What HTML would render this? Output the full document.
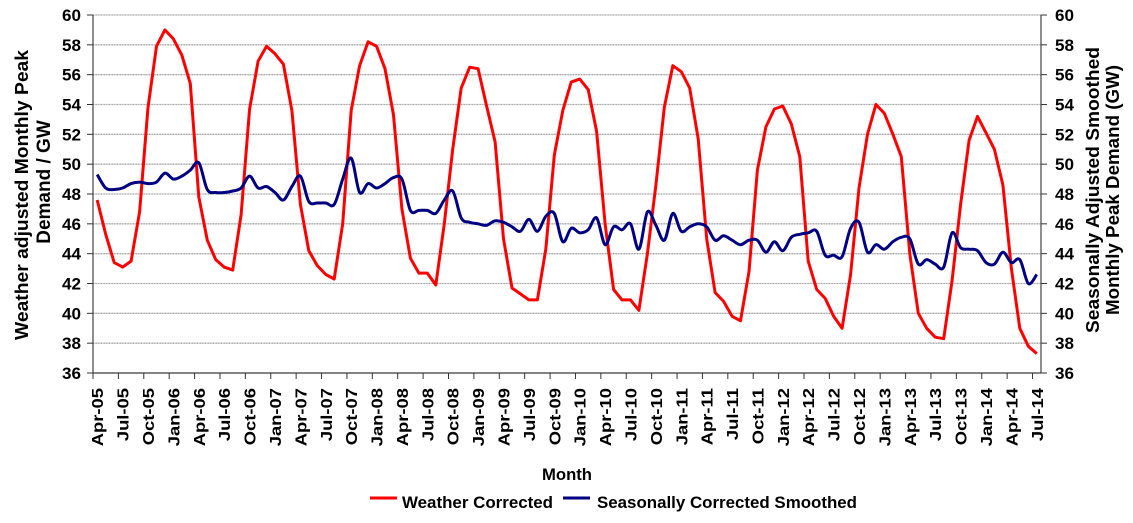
<!DOCTYPE html>
<html><head><meta charset="utf-8"><style>
html,body{margin:0;padding:0;background:#fff;}
svg text{font-family:"Liberation Sans",Arial,sans-serif;font-weight:bold;fill:#000;}
</style></head><body>
<svg id="chart" width="1133" height="518" viewBox="0 0 1133 518" xmlns="http://www.w3.org/2000/svg">
<g id="grid"></g>
<g id="axes"></g>
<g id="series"></g>
<text transform="translate(28,195) rotate(-90)" text-anchor="middle" font-size="18" textLength="290" lengthAdjust="spacingAndGlyphs">Weather adjusted Monthly Peak</text>
<text transform="translate(50,182) rotate(-90)" text-anchor="middle" style="font-size:19px">Demand / GW</text>
<text transform="translate(1099,190) rotate(-90)" text-anchor="middle" font-size="18" textLength="286" lengthAdjust="spacingAndGlyphs">Seasonally Adjusted Smoothed</text>
<text transform="translate(1119,190) rotate(-90)" text-anchor="middle" font-size="18" textLength="250" lengthAdjust="spacingAndGlyphs">Monthly Peak Demand (GW)</text>
<text x="567" y="480" text-anchor="middle" font-size="17" textLength="50" lengthAdjust="spacingAndGlyphs">Month</text>
<g>
<line x1="370" y1="498" x2="397" y2="498" stroke="#ff0000" stroke-width="3"/>
<text x="402" y="508" font-size="17" textLength="151" lengthAdjust="spacingAndGlyphs">Weather Corrected</text>
<line x1="563" y1="498" x2="590" y2="498" stroke="#000080" stroke-width="3"/>
<text x="597" y="508" font-size="17" textLength="260" lengthAdjust="spacingAndGlyphs">Seasonally Corrected Smoothed</text>
</g>
</svg>
<script>
const weatherCorrected = [47.6,45.3,43.4,43.1,43.5,46.8,53.8,57.9,59.0,58.4,57.3,55.4,
47.8,44.9,43.6,43.1,42.9,46.6,53.7,56.9,57.9,57.4,56.7,53.6,
47.3,44.2,43.2,42.6,42.3,46.0,53.6,56.6,58.2,57.9,56.4,53.3,
47.0,43.7,42.7,42.7,41.9,46.0,51.0,55.1,56.5,56.4,53.9,51.5,
45.0,41.7,41.3,40.9,40.9,44.3,50.6,53.6,55.5,55.7,55.0,52.2,
46.0,41.6,40.9,40.9,40.2,44.0,48.6,53.8,56.6,56.2,55.1,51.7,
45.0,41.4,40.8,39.8,39.5,42.8,49.6,52.5,53.7,53.9,52.7,50.5,
43.5,41.6,41.0,39.8,39.0,42.6,48.4,52.0,54.0,53.4,52.0,50.5,
44.0,40.0,39.0,38.4,38.3,42.2,47.3,51.6,53.2,52.1,51.0,48.6,
43.0,39.0,37.8,37.3];
const seasonallySmoothed = [49.3,48.4,48.3,48.4,48.7,48.8,48.7,48.8,49.4,49.0,49.2,49.6,
50.1,48.3,48.1,48.1,48.2,48.4,49.2,48.4,48.5,48.1,47.6,48.5,
49.2,47.5,47.4,47.4,47.3,49.0,50.4,48.1,48.7,48.4,48.7,49.1,
49.0,46.9,46.9,46.9,46.7,47.6,48.2,46.4,46.1,46.0,45.9,46.2,
46.1,45.8,45.5,46.3,45.5,46.5,46.7,44.8,45.7,45.4,45.6,46.4,
44.6,45.8,45.6,46.0,44.3,46.8,45.9,44.9,46.7,45.5,45.8,46.0,
45.8,44.9,45.2,44.9,44.6,44.9,44.9,44.1,44.8,44.2,45.1,45.3,
45.4,45.5,43.9,43.9,43.8,45.7,46.1,44.1,44.6,44.3,44.8,45.1,
45.0,43.3,43.6,43.3,43.1,45.4,44.4,44.3,44.2,43.4,43.3,44.1,
43.4,43.6,42.0,42.6];
const yTicks = [36,38,40,42,44,46,48,50,52,54,56,58,60];
const monthNames = ["Jan","Feb","Mar","Apr","May","Jun","Jul","Aug","Sep","Oct","Nov","Dec"];

const NS = "http://www.w3.org/2000/svg";
const L = 93, R = 1041, T = 15, B = 373, yMin = 36, yMax = 60;
const n = weatherCorrected.length;
const step = (R - L) / n;
function xPos(i){ return L + (i + 0.5) * step; }
function yPos(v){ return B - (v - yMin) / (yMax - yMin) * (B - T); }
function mk(tag, attrs, parent){ const e = document.createElementNS(NS, tag); for (const k in attrs) e.setAttribute(k, attrs[k]); parent.appendChild(e); return e; }
const grid = document.getElementById('grid'), axes = document.getElementById('axes'), series = document.getElementById('series');

yTicks.forEach(v => {
  const y = yPos(v);
  const g = mk('line', {x1:L, x2:R, y1:y, y2:y, stroke:'#9a9a9a', 'stroke-width':1.3, 'stroke-dasharray':'1 0.6'}, grid);
  
  
  const tl = mk('line', {x1:L-6, x2:L, y1:y, y2:y, stroke:'#333', 'stroke-width':1}, axes);
  
  
  const tr = mk('line', {x1:R, x2:R+6, y1:y, y2:y, stroke:'#333', 'stroke-width':1}, axes);
  
  
  const a = mk('text', {x:L-12, y:y+6, 'text-anchor':'end', 'font-size':17, textLength:19, lengthAdjust:'spacingAndGlyphs'}, axes);
  a.textContent = v;
  
  
  const b = mk('text', {x:R+14, y:y+6, 'text-anchor':'start', 'font-size':17, textLength:19, lengthAdjust:'spacingAndGlyphs'}, axes);
  b.textContent = v;
  
  
});
const la = mk('line', {x1:L, x2:L, y1:T, y2:B, stroke:'#444', 'stroke-width':1.2}, axes);


const ra = mk('line', {x1:R, x2:R, y1:T, y2:B, stroke:'#444', 'stroke-width':1.2}, axes);


const xa = mk('line', {x1:L, x2:R, y1:B, y2:B, stroke:'#444', 'stroke-width':1.2}, axes);



for (let i = 0; i < n; i += 3) {
  const tk = mk('line', {x1:L+i*step, x2:L+i*step, y1:B, y2:B+6, stroke:'#333', 'stroke-width':1}, axes);
  
  
  const m = (3 + i) % 12, yr = 5 + Math.floor((3 + i) / 12);
  const x = xPos(i) + 6;
  const t = mk('text', {transform:`translate(${x},${B+15}) rotate(-90) scale(1.15,1)`, 'text-anchor':'end', 'font-size':16}, axes);
  t.textContent = monthNames[m] + '-' + String(yr).padStart(2, '0');
  
  
}

let d = '';
weatherCorrected.forEach((v, i) => { d += (i ? 'L' : 'M') + xPos(i).toFixed(1) + ',' + yPos(v).toFixed(1); });
const red = mk('path', {d:d, fill:'none', stroke:'#ff0000', 'stroke-width':3, 'stroke-linejoin':'round'}, series);



const pts = seasonallySmoothed.map((v, i) => [xPos(i), yPos(v)]);
let s = 'M' + pts[0][0].toFixed(1) + ',' + pts[0][1].toFixed(1);
for (let i = 0; i < pts.length - 1; i++) {
  const p0 = pts[Math.max(0, i-1)], p1 = pts[i], p2 = pts[i+1], p3 = pts[Math.min(pts.length-1, i+2)];
  const c1 = [p1[0] + (p2[0]-p0[0])/6, p1[1] + (p2[1]-p0[1])/6];
  const c2 = [p2[0] - (p3[0]-p1[0])/6, p2[1] - (p3[1]-p1[1])/6];
  s += 'C' + c1[0].toFixed(1) + ',' + c1[1].toFixed(1) + ' ' + c2[0].toFixed(1) + ',' + c2[1].toFixed(1) + ' ' + p2[0].toFixed(1) + ',' + p2[1].toFixed(1);
}
const blue = mk('path', {d:s, fill:'none', stroke:'#000080', 'stroke-width':3, 'stroke-linejoin':'round'}, series);


</script>
</body></html>
